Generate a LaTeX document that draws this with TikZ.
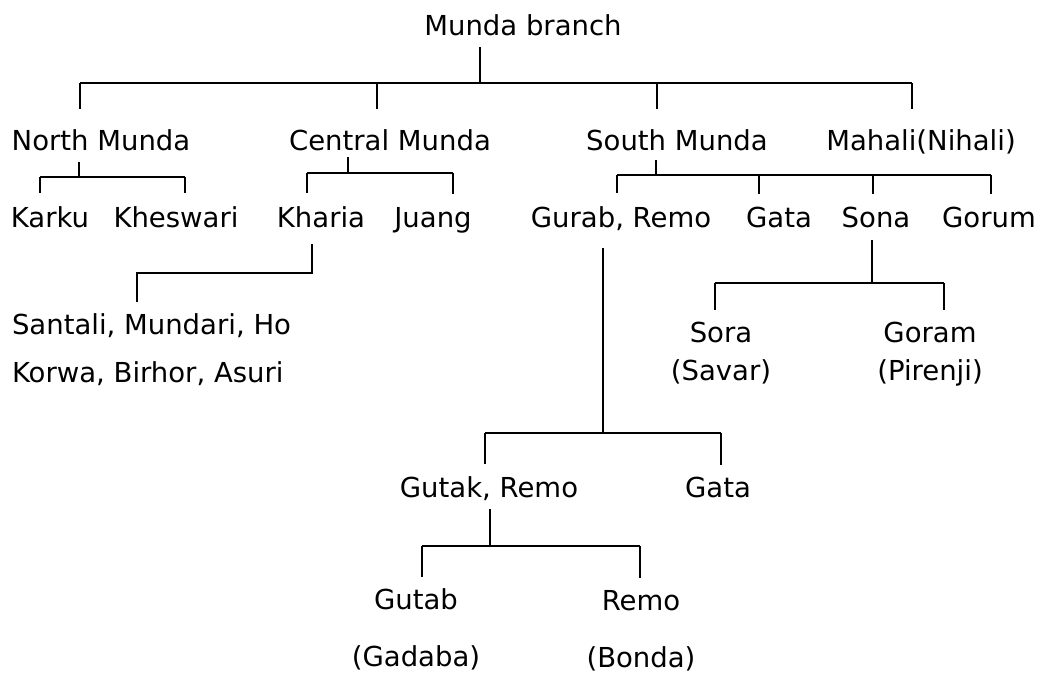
\documentclass[tikz,border=0pt]{standalone}
\usepackage{fontspec}
\setmainfont{DejaVu Sans}
\begin{document}
\begin{tikzpicture}[x=0.5pt, y=-0.5pt,
    lang/.style={inner sep=0pt, outer sep=0pt, anchor=base,
        font=\fontsize{13.75}{19}\selectfont},
    link/.style={line width=1.3pt}]
    \useasboundingbox (0,0) rectangle (1046,675);

    % Munda branch and its four groups
    \node [lang] (munda) at (523,35) {Munda branch};
    \node [lang] (north) at (101,150) {North Munda};
    \node [lang] (central) at (390,150) {Central Munda};
    \node [lang] (south) at (677,150) {South Munda};
    \node [lang] (mahali) at (921,150) {Mahali(Nihali)};

    % third row
    \node [lang] (karku) at (50,227) {Karku};
    \node [lang] (kheswari) at (176,227) {Kheswari};
    \node [lang] (kharia) at (321,227) {Kharia};
    \node [lang] (juang) at (433,227) {Juang};
    \node [lang] (gurab) at (621,227) {Gurab, Remo};
    \node [lang] (gata) at (779,227) {Gata};
    \node [lang] (sona) at (876,227) {Sona};
    \node [lang] (gorum) at (989,227) {Gorum};

    % below Kharia
    \node [lang, anchor=north west, align=left] (santali) at (12,314)
        {Santali, Mundari, Ho\\[5pt]Korwa, Birhor, Asuri};

    % below Sona
    \node [lang, anchor=north, align=center] (sora) at (721,322) {Sora\\(Savar)};
    \node [lang, anchor=north, align=center] (goram) at (930,322) {Goram\\(Pirenji)};

    % below Gurab, Remo
    \node [lang] (gutak) at (489,497) {Gutak, Remo};
    \node [lang] (gata2) at (718,497) {Gata};
    \node [lang, anchor=north, align=center] (gutab) at (416,589)
        {Gutab\\[9.5pt](Gadaba)};
    \node [lang, anchor=north, align=center] (remo) at (641,590)
        {Remo\\[9.5pt](Bonda)};

    % Munda branch
    \coordinate (m0) at (480,83);
    \coordinate (m1) at (80,83);
    \coordinate (m2) at (377,83);
    \coordinate (m3) at (657,83);
    \coordinate (m4) at (912,83);
    \draw [link, shorten <=6pt] (munda.south -| m0) -- (m0);
    \draw [link] (m1) -- (m4);
    \foreach \c/\n in {m1/north, m2/central, m3/south, m4/mahali}
        \draw [link, shorten >=10pt] (\c) -- (\c |- \n.north);

    % North Munda
    \coordinate (n0) at (79,177);
    \coordinate (n1) at (40,177);
    \coordinate (n2) at (185,177);
    \draw [link, shorten <=6pt] (north.south -| n0) -- (n0);
    \draw [link] (n1) -- (n2);
    \foreach \c/\n in {n1/karku, n2/kheswari}
        \draw [link, shorten >=6.5pt] (\c) -- (\c |- \n.north);

    % Central Munda
    \coordinate (c0) at (348,173);
    \coordinate (c1) at (307,173);
    \coordinate (c2) at (453,173);
    \draw [link, shorten <=3.5pt] (central.south -| c0) -- (c0);
    \draw [link] (c1) -- (c2);
    \foreach \c/\n in {c1/kharia, c2/juang}
        \draw [link, shorten >=6.5pt] (\c) -- (\c |- \n.north);

    % South Munda
    \coordinate (s0) at (656,175);
    \coordinate (s1) at (617,175);
    \coordinate (s2) at (759,175);
    \coordinate (s3) at (873,175);
    \coordinate (s4) at (991,175);
    \draw [link, shorten <=5pt] (south.south -| s0) -- (s0);
    \draw [link] (s1) -- (s4);
    \foreach \c/\n in {s1/gurab, s2/gata, s3/sona, s4/gorum}
        \draw [link, shorten >=6.5pt] (\c) -- (\c |- \n.north);

    % Kharia
    \coordinate (k0) at (312,273);
    \coordinate (k1) at (137,273);
    \draw [link, shorten <=8.5pt, shorten >=6pt]
        (kharia.south -| k0) -- (k0) -- (k1) -- (k1 |- santali.north);

    % Gurab, Remo
    \coordinate (g0) at (603,433);
    \coordinate (g1) at (485,433);
    \coordinate (g2) at (721,433);
    \draw [link, shorten <=9pt] (gurab.south -| g0) -- (g0);
    \draw [link] (g1) -- (g2);
    \foreach \c/\n in {g1/gutak, g2/gata2}
        \draw [link, shorten >=6pt] (\c) -- (\c |- \n.north);

    % Sona
    \coordinate (o0) at (872,283);
    \coordinate (o1) at (715,283);
    \coordinate (o2) at (944,283);
    \draw [link, shorten <=6.5pt] (sona.south -| o0) -- (o0);
    \draw [link] (o1) -- (o2);
    \foreach \c/\n in {o1/sora, o2/goram}
        \draw [link, shorten >=6pt] (\c) -- (\c |- \n.north);

    % Gutak, Remo
    \coordinate (t0) at (490,546);
    \coordinate (t1) at (422,546);
    \coordinate (t2) at (640,546);
    \draw [link, shorten <=4.5pt] (gutak.south -| t0) -- (t0);
    \draw [link] (t1) -- (t2);
    \foreach \c/\n in {t1/gutab, t2/remo}
        \draw [link, shorten >=6pt] (\c) -- (\c |- \n.north);
\end{tikzpicture}
\end{document}
